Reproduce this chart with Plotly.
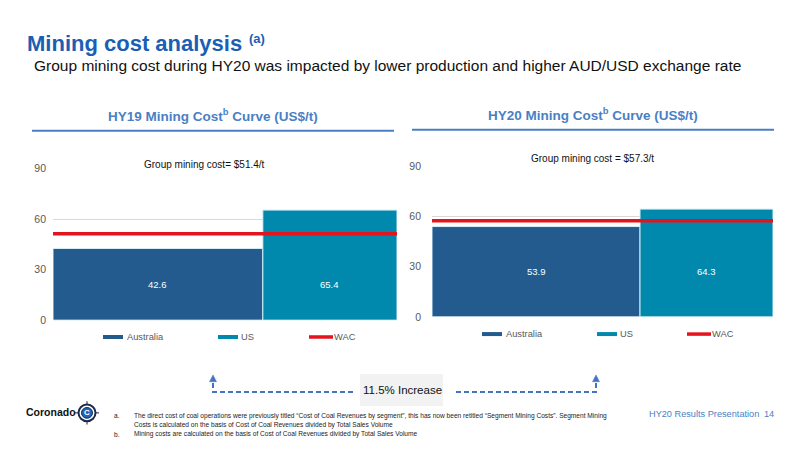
import plotly.graph_objects as go
import numpy as np

# ---------------- data ----------------
regions = ["Australia", "US"]
hy19_cost = [42.6, 65.4]          # US$/t
hy20_cost = [53.9, 64.3]          # US$/t
hy19_volume_share = [61, 39]      # relative bar widths (sales volume share, %)
hy20_volume_share = [61, 39]
hy19_wac = 51.4
hy20_wac = 57.3
y_ticks = [0, 30, 60, 90]
increase_label = "11.5% Increase"

# the page body has an 8px margin; lay out in window pixels and compensate
OFF = 8
W, H = 800 - OFF, 450 - OFF
def px(x): return (x - OFF) / W
def py(y): return 1 - (y - OFF) / H

FONT = "Arial, 'Liberation Sans', sans-serif"
C_AUS = "#235b8e"
C_US = "#0089ad"
C_WAC = "#e3141d"
C_TITLE = "#1a5fb4"
C_SUB = "#4a7fc5"
C_TICK = "#595959"

fig = go.Figure()

def add_chart(costs, shares, wac, xa, ya):
    shares = np.array(shares, dtype=float)
    lefts = np.concatenate([[0], np.cumsum(shares)[:-1]])
    centers = lefts + shares / 2
    total = shares.sum()
    colors = [C_AUS, C_US]
    for i, r in enumerate(regions):
        fig.add_trace(go.Bar(
            x=[centers[i]], y=[costs[i]], width=[shares[i]], name=r,
            marker=dict(color=colors[i], line=dict(color="#d6eef5", width=1)),
            xaxis=xa, yaxis=ya, showlegend=False, hoverinfo="skip"))
    fig.add_trace(go.Scatter(
        x=[0, total], y=[wac, wac], mode="lines", name="WAC",
        line=dict(color=C_WAC, width=3.5), xaxis=xa, yaxis=ya,
        showlegend=False, hoverinfo="skip"))
    # data labels (placed at the height of the first bar's mid-point, as in the source)
    for i in range(len(regions)):
        fig.add_annotation(x=centers[i], y=costs[0] / 2, xref=xa, yref=ya,
                           text=f"{costs[i]:.1f}", showarrow=False,
                           font=dict(family=FONT, size=9.5, color="white"))
    return total

t1 = add_chart(hy19_cost, hy19_volume_share, hy19_wac, "x", "y")
t2 = add_chart(hy20_cost, hy20_volume_share, hy20_wac, "x2", "y2")

axis_common = dict(showline=False, zeroline=False, showgrid=False,
                   showticklabels=False, fixedrange=True)
yaxis_common = dict(range=[0, 90], tickvals=y_ticks, showgrid=True,
                    gridcolor="#d9d9d9", gridwidth=1, zeroline=False,
                    showline=False, ticks="",
                    tickfont=dict(family=FONT, size=10.5, color=C_TICK))

fig.update_layout(
    width=W, height=H, margin=dict(l=0, r=0, t=0, b=0),
    paper_bgcolor="white", plot_bgcolor="white", barmode="overlay",
    showlegend=False,
    xaxis=dict(domain=[px(53), px(397)], range=[0, t1], **axis_common),
    yaxis=dict(domain=[py(322.7), py(167)], anchor="x", ticklabelstandoff=6, **yaxis_common),
    xaxis2=dict(domain=[px(432), px(773)], range=[0, t2], anchor="y2", **axis_common),
    yaxis2=dict(domain=[py(319.3), py(164.3)], anchor="x2", ticklabelstandoff=10, **yaxis_common),
)

def text(x, y, s, size, color="#000000", xanchor="left", bold=False, family=FONT):
    if bold:
        s = f"<b>{s}</b>"
    fig.add_annotation(x=px(x), y=py(y), xref="paper", yref="paper", text=s,
                       showarrow=False, xanchor=xanchor, yanchor="middle",
                       font=dict(family=family, size=size, color=color))

# Titles
text(25, 38.5, "Mining cost analysis", 22, C_TITLE, bold=True)
text(247, 33.5, "(a)", 13, C_TITLE, bold=True)
text(32, 61, "Group mining cost during HY20 was impacted by lower production and higher AUD/USD exchange rate", 15.5, "#111111")

text(213, 112, "HY19 Mining Cost<sup>b</sup> Curve (US$/t)", 13.5, C_SUB, xanchor="center", bold=True)
text(593, 111, "HY20 Mining Cost<sup>b</sup> Curve (US$/t)", 13.5, C_SUB, xanchor="center", bold=True)

shapes = []
shapes.append(dict(type="line", xref="paper", yref="paper", x0=px(32), x1=px(394),
                   y0=py(128), y1=py(128), line=dict(color=C_SUB, width=2)))
shapes.append(dict(type="line", xref="paper", yref="paper", x0=px(412), x1=px(774),
                   y0=py(127), y1=py(127), line=dict(color=C_SUB, width=2)))

text(204, 162.5, f"Group mining cost= ${hy19_wac}/t", 10, "#111111", xanchor="center")
text(592, 157, f"Group mining cost = ${hy20_wac}/t", 10, "#111111", xanchor="center")

# Legends (manual)
def legend(y, items):
    for (x0, x1, tx, label, color, thick) in items:
        shapes.append(dict(type="line", xref="paper", yref="paper", x0=px(x0), x1=px(x1),
                           y0=py(y), y1=py(y), line=dict(color=color, width=thick)))
        text(tx, y, label, 9.3, C_TICK)

legend(340, [(103, 123, 125, regions[0], C_AUS, 4),
             (218, 238, 239, regions[1], C_US, 4),
             (309, 333, 332, "WAC", C_WAC, 3.5)])
legend(337, [(482, 502, 504, regions[0], C_AUS, 4),
             (597, 617, 618, regions[1], C_US, 4),
             (687, 711, 710, "WAC", C_WAC, 3.5)])

# Increase box and dashed arrows
shapes.append(dict(type="rect", xref="paper", yref="paper", x0=px(360), x1=px(443),
                   y0=py(411), y1=py(378), fillcolor="#f2f2f2", line=dict(width=0)))
text(402, 394.5, increase_label, 11.5, "#111111", xanchor="center")
ARC = "#4472c4"
def P(x, y): return f"{px(x)} {py(y)}"
shapes.append(dict(type="path", xref="paper", yref="paper",
                   path=f"M {P(353,396.5)} L {P(213,396.5)} L {P(213,386)}",
                   line=dict(color=ARC, width=2, dash="5px,3px")))
shapes.append(dict(type="path", xref="paper", yref="paper",
                   path=f"M {P(456,396.5)} L {P(596,396.5)} L {P(596,386)}",
                   line=dict(color=ARC, width=2, dash="5px,3px")))
for ax in (213, 596):
    shapes.append(dict(type="path", xref="paper", yref="paper",
                       path=f"M {P(ax-3.5,386)} L {P(ax+3.5,386)} L {P(ax,379)} Z",
                       fillcolor=ARC, line=dict(color=ARC, width=0.5)))

# Logo
text(24, 417, "Coronado", 10.5, "#111111", bold=True)
cx, cy = 87, 418
for (x0, y0, x1, y1) in [(cx-12, cy, cx+12, cy), (cx, cy-12, cx, cy+12)]:
    shapes.append(dict(type="line", xref="paper", yref="paper", x0=px(x0), x1=px(x1),
                       y0=py(y0), y1=py(y1), line=dict(color="#1b2a4a", width=1)))
shapes.append(dict(type="circle", xref="paper", yref="paper", x0=px(cx-8.5), x1=px(cx+8.5),
                   y0=py(cy+8.5), y1=py(cy-8.5), fillcolor="white", line=dict(color="#1b2a4a", width=2)))
shapes.append(dict(type="circle", xref="paper", yref="paper", x0=px(cx-5.5), x1=px(cx+5.5),
                   y0=py(cy+5.5), y1=py(cy-5.5), fillcolor="#1f64c0", line=dict(color="#1b2a4a", width=1)))
text(cx, cy, "C", 8, "white", xanchor="center", bold=True)

# Footnotes
FN = 6.6
text(112, 421, "a.", FN, "#222222")
text(132, 421, "The direct cost of coal operations were previously titled \u201cCost of Coal Revenues by segment\u201d, this has now been retitled \u201cSegment Mining Costs\u201d. Segment Mining", FN, "#222222")
text(132, 430.5, "Costs is calculated on the basis of Cost of Coal Revenues divided by Total Sales Volume", FN, "#222222")
text(112, 440, "b.", FN, "#222222")
text(132, 440, "Mining costs are calculated on the basis of Cost of Coal Revenues divided by Total Sales Volume", FN, "#222222")

text(647, 419, "HY20 Results Presentation", 9.2, C_SUB)
text(769, 419, "14", 9.2, C_SUB, xanchor="center")

fig.update_layout(shapes=shapes)
fig.write_html("out.html")
